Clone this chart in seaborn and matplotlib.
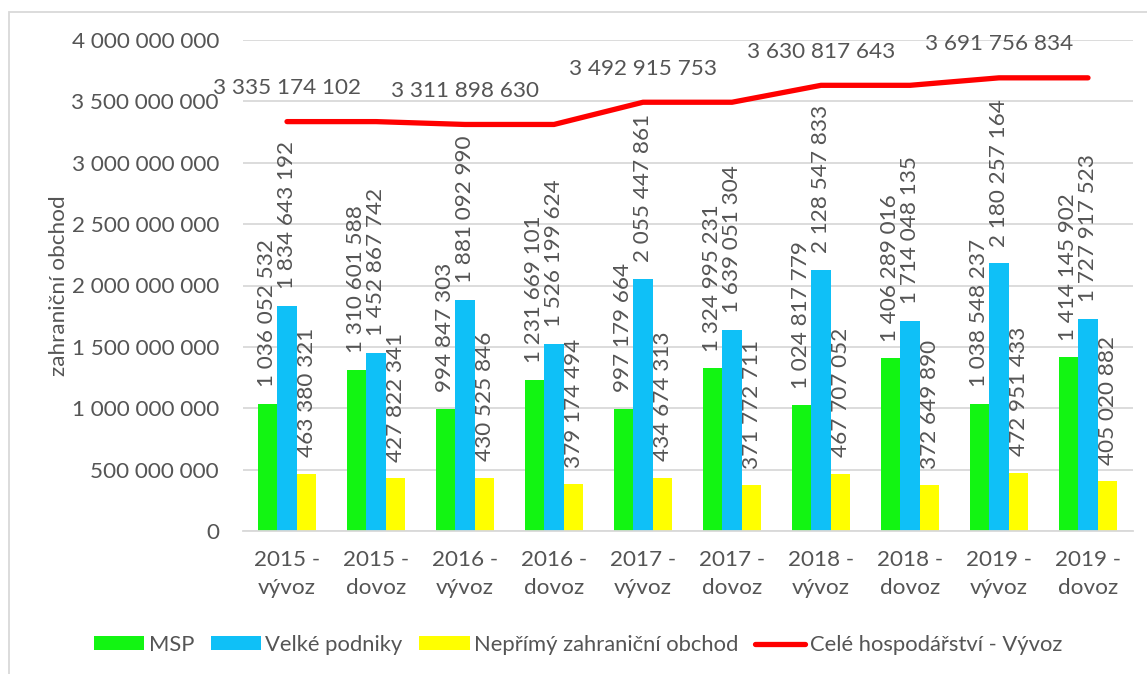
import matplotlib
matplotlib.use("Agg")
import matplotlib.pyplot as plt
import seaborn as sns
import pandas as pd
import numpy as np
from matplotlib.patches import Rectangle

categories = ["2015 -\nvývoz", "2015 -\ndovoz", "2016 -\nvývoz", "2016 -\ndovoz",
              "2017 -\nvývoz", "2017 -\ndovoz", "2018 -\nvývoz", "2018 -\ndovoz",
              "2019 -\nvývoz", "2019 -\ndovoz"]
msp = [1036052532, 1310601588, 994847303, 1231669101, 997179664,
       1324995231, 1024817779, 1406289016, 1038548237, 1414145902]
velke = [1834643192, 1452867742, 1881092990, 1526199624, 2055447861,
         1639051304, 2128547833, 1714048135, 2180257164, 1727917523]
neprimy = [463380321, 427822341, 430525846, 379174494, 434674313,
           371772711, 467707052, 372649890, 472951433, 405020882]
cele = [3335174102, 3335174102, 3311898630, 3311898630, 3492915753,
        3492915753, 3630817643, 3630817643, 3691756834, 3691756834]
cele_labels = ["3 335 174 102", "", "3 311 898 630", "", "3 492 915 753",
               "", "3 630 817 643", "", "3 691 756 834", ""]
series_names = ["MSP", "Velké podniky", "Nepřímý zahraniční obchod"]
line_name = "Celé hospodářství - Vývoz"
yticks = [0, 500000000, 1000000000, 1500000000, 2000000000,
          2500000000, 3000000000, 3500000000, 4000000000]

colors = ["#12F512", "#0FC0F7", "#FFFF00"]
TXT = "#555555"

sns.set_theme(style="white")
plt.rcParams["font.family"] = ["Lato", "DejaVu Sans"]
FS = 16.2

def fmt(v):
    return f"{int(round(v)):,}".replace(",", " ")

df = pd.DataFrame({
    "kat": categories * 3,
    "hodnota": msp + velke + neprimy,
    "serie": [series_names[0]] * 10 + [series_names[1]] * 10 + [series_names[2]] * 10,
})

fig = plt.figure(figsize=(11.47, 6.74), dpi=100)
ax = fig.add_axes([242.5 / 1147, 1 - 531 / 674, 890 / 1147, 491 / 674])

sns.barplot(data=df, x="kat", y="hodnota", hue="serie", order=categories,
            hue_order=series_names, palette=colors, width=0.66, gap=0,
            saturation=1, edgecolor="none", linewidth=0, ax=ax, errorbar=None)

# bar labels
for cont in ax.containers:
    ax.bar_label(cont, labels=[fmt(b.get_height()) for b in cont], rotation=90,
                 padding=12, fontsize=FS, color=TXT)

xs = np.arange(len(categories))
sns.lineplot(x=xs, y=cele, color="#FF0000", linewidth=3.8, ax=ax,
             label=line_name, solid_capstyle="round", sort=False)
for x, v, lab in zip(xs, cele, cele_labels):
    if lab:
        ax.annotate(lab, (x, v), xytext=(0, 17), textcoords="offset points",
                    ha="center", va="bottom", fontsize=FS, color=TXT)

ax.set_xlim(-0.5, len(categories) - 0.5)
ax.set_ylim(0, 4000000000)
ax.set_yticks(yticks)
ax.set_yticklabels([fmt(v) for v in yticks])
ax.set_xticks(xs)
ax.set_xticklabels(categories, linespacing=1.45)
ax.tick_params(axis="y", length=0, pad=17, labelsize=FS, labelcolor=TXT)
ax.tick_params(axis="x", length=0, pad=14, labelsize=FS, labelcolor=TXT)
ax.set_xlabel("")
ax.set_ylabel("zahraniční obchod", fontsize=FS, color=TXT, labelpad=2)
ax.yaxis.grid(True, color="#D9D9D9", linewidth=1.3)
ax.set_axisbelow(True)
for s in ["top", "right", "left"]:
    ax.spines[s].set_visible(False)
ax.spines["bottom"].set_color("#D9D9D9")
ax.spines["bottom"].set_linewidth(1.3)

handles, labels = ax.get_legend_handles_labels()
if ax.legend_:
    ax.legend_.remove()
leg = fig.legend(handles, labels, loc="center", bbox_to_anchor=(578 / 1147, 1 - 645 / 674),
                 ncol=4, frameon=False, fontsize=15.8, handlelength=2.3, handleheight=0.62,
                 handletextpad=0.2, columnspacing=0.75, labelcolor=TXT)

# outer chart border (left & top visible)
fig.patches.append(Rectangle((9 / 1147, -0.1), 1.2, 1 - 12 / 674 + 0.1,
                             transform=fig.transFigure, fill=False,
                             edgecolor="#D9D9D9", linewidth=1.3))

fig.savefig("out.png", dpi=100)
